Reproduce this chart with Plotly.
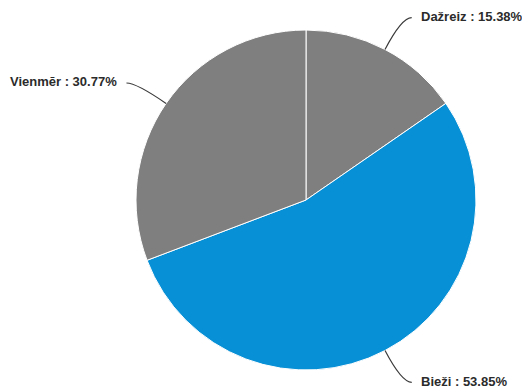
import math
import plotly.graph_objects as go

# Survey answer shares (percent), clockwise from 12 o'clock
labels = ["Dažreiz", "Bieži", "Vienmēr"]
values = [15.38, 53.85, 30.77]
colors = ["#7f7f7f", "#0890d6", "#7f7f7f"]

W, H = 522, 392
cx, cy, R = 306, 200, 170  # pie centre and radius in pixels


def px(x):
    return x / W


def py(y):
    return 1 - y / H


fig = go.Figure(
    go.Pie(
        labels=labels,
        values=values,
        sort=False,
        direction="clockwise",
        rotation=0,
        marker=dict(colors=colors, line=dict(color="#ffffff", width=1)),
        textinfo="none",
        hoverinfo="label+percent",
        domain=dict(x=[px(cx - R), px(cx + R)], y=[py(cy + R), py(cy - R)]),
        showlegend=False,
    )
)

# Outside labels with curved leader lines, placed at each slice's mid-angle
shapes, annotations = [], []
total = sum(values)
acc = 0.0
for lab, val in zip(labels, values):
    mid = (acc + val / 2) / total * 2 * math.pi
    acc += val
    sx, sy = math.sin(mid), -math.cos(mid)
    x0, y0 = cx + R * sx, cy + R * sy
    xc, yc = cx + (R + 36) * sx, cy + (R + 36) * sy
    side = 1 if sx >= 0 else -1
    x1, y1 = xc + 10 * side, yc
    path = (f"M {px(x0)},{py(y0)} Q {px(xc)},{py(yc)} {px(x1)},{py(y1)}")
    shapes.append(dict(type="path", xref="paper", yref="paper", path=path,
                       line=dict(color="#3a3a3a", width=1.2)))
    annotations.append(dict(
        x=px(x1 + 7 * side), y=py(y1 - 1), xref="paper", yref="paper",
        text=f"<b>{lab} : {val:.2f}%</b>", showarrow=False,
        xanchor="left" if side > 0 else "right", yanchor="middle",
        font=dict(family="Liberation Sans, Arial, sans-serif", size=13, color="#2b2b2b"),
    ))

fig.update_layout(
    width=W, height=H,
    margin=dict(l=0, r=0, t=0, b=0),
    paper_bgcolor="#ffffff",
    plot_bgcolor="#ffffff",
    shapes=shapes,
    annotations=annotations,
)

fig.write_html("out.html")
